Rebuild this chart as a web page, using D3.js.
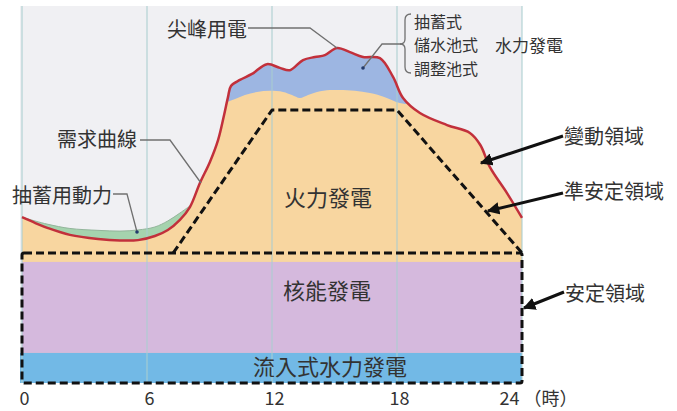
<!DOCTYPE html>
<html>
<head>
<meta charset="utf-8">
<script src="https://cdn.jsdelivr.net/npm/d3@7"></script>
<style>
  body { margin: 0; background: #fff; }
  text { font-family: "Noto Sans CJK TC", "Noto Sans CJK JP", sans-serif; fill: #333; }
</style>
</head>
<body>
<svg id="chart" width="677" height="411"></svg>
<script>
// Hours of the day shown on the axis
const hourTicks = [0, 6, 12, 18, 24];

// Daily demand curve (load, % of chart height)
const demandHours = [0, 0.62, 1.25, 2.3, 3.65, 4.7, 5.57, 6.38, 7.0, 7.58, 8.06, 8.54, 9.02, 9.41, 9.70, 9.89, 10.03,
  10.46, 11.04, 11.76, 12.38, 12.86, 13.49, 14.06, 14.54, 15.12, 15.74, 16.37, 17.18, 17.81, 18.29, 19.1, 20.4,
  21.5, 22.0, 22.46, 23.28, 24];
const demandLoad = [44.1, 42.6, 41.2, 39.4, 38.3, 37.9, 38.0, 39.1, 40.7, 43.4, 46.8, 53.2, 58.8, 64.6, 71.3, 76.1, 79.0,
  80.6, 82.2, 84.8, 83.8, 83.2, 85.9, 86.7, 87.2, 89.1, 88.0, 86.7, 86.4, 81.4, 75.8, 71.8, 68.6,
  66.5, 63.3, 57.4, 50.5, 43.9];

// Load including pumped-storage pumping during the night
const pumpHours = [0, 0.62, 1.25, 2.3, 3.65, 4.7, 5.57, 6.38, 7.0, 7.58, 8.06];
const pumpLoad = [44.1, 43.1, 42.2, 41.1, 40.6, 40.4, 40.7, 41.5, 43.1, 45.2, 47.1];

// Upper edge of thermal supply under the daytime peak (hydro covers the rest)
const thermalTopHours = [9.84, 10.13, 10.70, 11.28, 11.90, 12.53, 12.96, 13.34, 13.73, 14.16, 14.78, 15.26, 15.98,
  16.70, 17.42, 17.99, 18.43];
const thermalTopLoad = [74.7, 75.3, 76.6, 77.4, 77.7, 77.4, 76.6, 75.8, 76.6, 77.4, 77.9, 77.9, 77.7,
  77.1, 76.0, 74.7, 74.2];

// Base-load levels
const runOfRiverLevel = 8.0;
const nuclearLevel = 32.2;
const stableLevel = 34.6;

// Semi-stable (thermal) trapezoid outline
const semiStableHours = [7.26, 12, 18, 24];
const semiStableLoad = [34.6, 72.6, 72.6, 34.6];

// Peak hydro types
const peakHydroTypes = ["抽蓄式", "儲水池式", "調整池式"];

const svg = d3.select("#chart");
const x = d3.scaleLinear().domain([0, 24]).range([22, 522]);
const y = d3.scaleLinear().domain([0, 100]).range([383, 7]);
const smooth = d3.curveCatmullRom.alpha(0.5);

const zip = (hs, vs) => hs.map((h, i) => [h, vs[i]]);
const demand = zip(demandHours, demandLoad);
const pump = zip(pumpHours, pumpLoad);
const thermalTop = zip(thermalTopHours, thermalTopLoad);
const semiStable = zip(semiStableHours, semiStableLoad);

const areaBelow = d3.area().x(d => x(d[0])).y0(y(0)).y1(d => y(d[1])).curve(smooth);
const lineOf = d3.line().x(d => x(d[0])).y(d => y(d[1])).curve(smooth);

const defs = svg.append("defs");
defs.append("clipPath").attr("id", "peakClip")
  .append("path")
  .datum(thermalTop)
  .attr("d", d3.area().x(d => x(d[0])).y0(0).y1(d => y(d[1])).curve(smooth));
defs.append("marker")
  .attr("id", "arrow").attr("viewBox", "0 0 10 10")
  .attr("refX", 9).attr("refY", 5)
  .attr("markerWidth", 4.2).attr("markerHeight", 4.2)
  .attr("orient", "auto-start-reverse")
  .append("path").attr("d", "M0,0 L10,5 L0,10 Z").attr("fill", "#111");

// Plot background
svg.append("rect")
  .attr("x", x(0) - 2).attr("y", y(100) - 1)
  .attr("width", x(24) - x(0) + 2).attr("height", y(0) - y(100) + 1)
  .attr("fill", "#f0f0f3");

// Pumping load (green band above the demand curve)
svg.append("path").datum(pump).attr("d", areaBelow).attr("fill", "#a5d3ae");
svg.append("path").datum(pump).attr("d", lineOf)
  .attr("fill", "none").attr("stroke", "#93b59b").attr("stroke-width", 1);

// Thermal supply up to the demand curve
svg.append("path").datum(demand).attr("d", areaBelow).attr("fill", "#f8d6a0");

// Peak hydro (pumped storage / reservoir / pondage)
svg.append("path").datum(demand).attr("d", areaBelow)
  .attr("fill", "#9db6e2").attr("clip-path", "url(#peakClip)");

// Nuclear
svg.append("rect")
  .attr("x", x(0)).attr("y", y(nuclearLevel))
  .attr("width", x(24) - x(0)).attr("height", y(runOfRiverLevel) - y(nuclearLevel))
  .attr("fill", "#d5b9dd");

// Run-of-river hydro
svg.append("rect")
  .attr("x", x(0) - 2).attr("y", y(runOfRiverLevel))
  .attr("width", x(24) - x(0) + 2).attr("height", y(0) - y(runOfRiverLevel))
  .attr("fill", "#72b9e6");

// Vertical hour grid
svg.append("g").selectAll("line").data(hourTicks).join("line")
  .attr("x1", d => x(d)).attr("x2", d => x(d))
  .attr("y1", y(100) - 1).attr("y2", y(0))
  .attr("stroke", "#a9cdd0").attr("stroke-opacity", 0.7).attr("stroke-width", 1.5);

// Demand curve
svg.append("path").datum(demand).attr("d", lineOf)
  .attr("fill", "none").attr("stroke", "#c2303b").attr("stroke-width", 2.5);

// Stable region box and semi-stable outline
const dash = "8,4";
svg.append("rect")
  .attr("x", x(0)).attr("y", y(stableLevel))
  .attr("width", x(24) - x(0)).attr("height", y(0) - y(stableLevel))
  .attr("rx", 2)
  .attr("fill", "none").attr("stroke", "#111").attr("stroke-width", 3).attr("stroke-dasharray", dash);
svg.append("path").datum(semiStable)
  .attr("d", d3.line().x(d => x(d[0])).y(d => y(d[1])))
  .attr("fill", "none").attr("stroke", "#111").attr("stroke-width", 3)
  .attr("stroke-dasharray", dash).attr("stroke-linejoin", "round");

// Leader lines
const leader = svg.append("g").attr("fill", "none").attr("stroke", "#707070").attr("stroke-width", 1.3);
leader.append("polyline").attr("points", "248,28 310,28 337,48");
leader.append("polyline").attr("points", "140,140 170,140 201,183");
leader.append("polyline").attr("points", "113,194 127,194 137,232");
leader.append("polyline").attr("points", "401,44 382,44 363,68");
leader.append("path").attr("d", "M411,14 Q405,14 405,20 L405,39 Q405,44 400,44 Q405,44 405,49 L405,67 Q405,73 411,73");
svg.append("g").selectAll("circle").data([[137, 232], [363, 68]]).join("circle")
  .attr("cx", d => d[0]).attr("cy", d => d[1]).attr("r", 1.8).attr("fill", "#233a6b");

// Region arrows
const arrows = svg.append("g").attr("stroke", "#111").attr("stroke-width", 3).attr("fill", "none");
arrows.append("line").attr("x1", 563).attr("y1", 136).attr("x2", 481).attr("y2", 163).attr("marker-end", "url(#arrow)");
arrows.append("line").attr("x1", 563).attr("y1", 193).attr("x2", 488).attr("y2", 211).attr("marker-end", "url(#arrow)");
arrows.append("line").attr("x1", 564).attr("y1", 292).attr("x2", 524).attr("y2", 308).attr("marker-end", "url(#arrow)");

// Labels
function label(txt, tx, ty, size, anchor) {
  svg.append("text").attr("x", tx).attr("y", ty)
    .attr("font-size", size).attr("text-anchor", anchor || "start")
    .attr("dominant-baseline", "central").text(txt);
}
label("尖峰用電", 167, 28, 20);
label("需求曲線", 57, 138, 20);
label("抽蓄用動力", 12, 194, 20);
label("水力發電", 495, 44, 17);
label("變動領域", 564, 135, 20);
label("準安定領域", 564, 190, 20);
label("安定領域", 565, 292, 20);
label("火力發電", 328, 196, 22, "middle");
label("核能發電", 327, 289, 22, "middle");
label("流入式水力發電", 330, 365, 22, "middle");

// Stacked list of peak hydro types beside the brace
svg.append("g").selectAll("text").data(peakHydroTypes).join("text")
  .attr("font-size", 16)
  .attr("x", 414).attr("y", (d, i) => 20.5 + i * 23.5)
  .attr("dominant-baseline", "central")
  .text(d => d);

// Hour axis
const axis = svg.append("g").attr("transform", `translate(0,${y(0)})`)
  .call(d3.axisBottom(x).tickValues(hourTicks).tickSize(0).tickPadding(9));
axis.select(".domain").remove();
axis.selectAll("text").attr("font-size", 18).attr("fill", "#333")
  .style("font-family", '"Noto Sans CJK TC", sans-serif')
  .attr("dx", 2);
axis.selectAll(".tick").filter(d => d === 24).select("text")
  .attr("text-anchor", "end").attr("dx", -3);
const lastTick = axis.selectAll(".tick").filter(d => d === 24);
lastTick.append("text")
  .attr("y", 9).attr("dy", "0.71em").attr("x", 1)
  .attr("text-anchor", "start").attr("font-size", 18).attr("fill", "#333")
  .style("font-family", '"Noto Sans CJK TC", sans-serif')
  .text("（時）");
</script>
</body>
</html>
